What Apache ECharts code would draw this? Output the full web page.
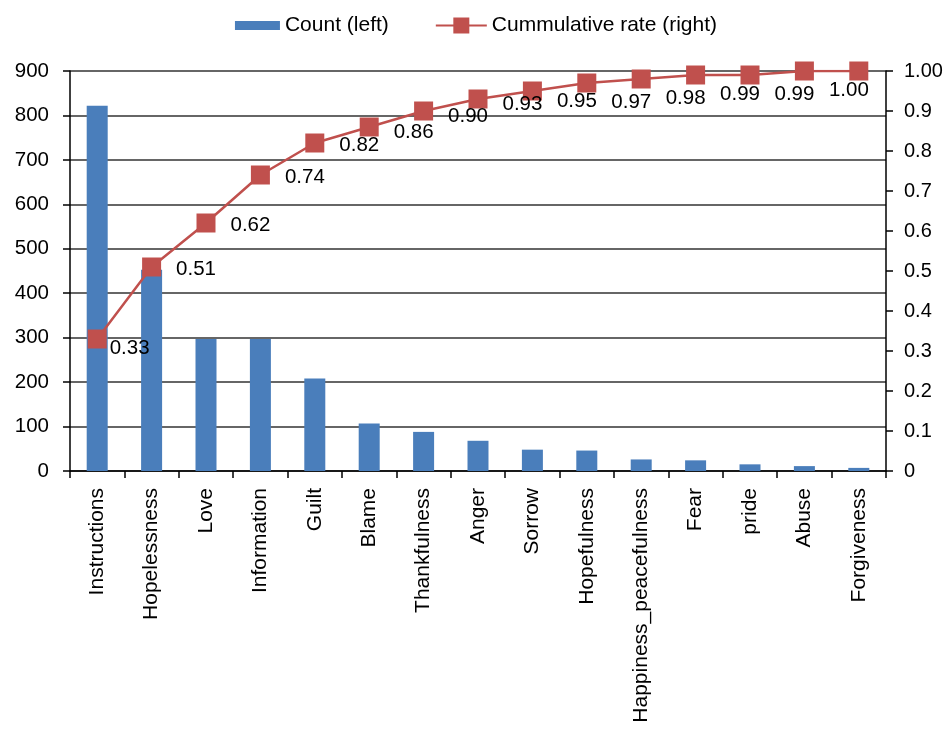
<!DOCTYPE html>
<html>
<head>
<meta charset="utf-8">
<script src="https://cdn.jsdelivr.net/npm/echarts@6/dist/echarts.min.js"></script>
<style>html,body{margin:0;padding:0;background:#fff;}#c{width:946px;height:729px;}</style>
</head>
<body>
<div id="c"></div>
<script>
const categories = ["Instructions","Hopelessness","Love","Information","Guilt","Blame","Thankfulness","Anger","Sorrow","Hopefulness","Happiness_peacefulness","Fear","pride","Abuse","Forgiveness"];
const counts = [822, 453, 297, 297, 208, 107, 88, 68, 48, 46, 26, 24, 15, 11, 7];
const cumRate = [0.33, 0.51, 0.62, 0.74, 0.82, 0.86, 0.90, 0.93, 0.95, 0.97, 0.98, 0.99, 0.99, 1.00, 1.00];
const leftTicks = [0, 900, 100];
const rightTicks = [0, 1, 0.1];

const FONT = "'Liberation Sans', Arial, sans-serif";
const chart = echarts.init(document.getElementById('c'), null, {renderer: 'canvas'});

// label nudges (style only), chosen by position in the curve
function labelFor(v, i, n) {
  if (i === n - 1) return {show: false};
  if (i === 0) return {offset: [-12, 9]};
  if (v >= 0.97) return {offset: [0, 19]};
  if (v >= 0.95) return {offset: [0, 10]};
  if (v >= 0.85) return {offset: [0, 5]};
  return {offset: [0, 2]};
}
const lineData = cumRate.map((v, i) => ({value: v, label: labelFor(v, i, cumRate.length)}));

chart.setOption({
  animation: false,
  backgroundColor: '#ffffff',
  textStyle: {fontFamily: FONT},
  legend: {
    top: 10,
    left: 'center',
    itemGap: 46,
    itemWidth: 51,
    itemHeight: 20,
    textStyle: {fontFamily: FONT, fontSize: 21, color: '#000'},
    data: [
      {name: 'Count (left)', icon: 'path://M0,0L0,0M6,5.5L51,5.5L51,14.5L6,14.5ZM51,20L51,20'},
      {name: 'Cummulative rate (right)'}
    ]
  },
  grid: {left: 70, right: 60, top: 71, bottom: 258, containLabel: false},
  xAxis: {
    type: 'category',
    data: categories,
    boundaryGap: true,
    axisLine: {lineStyle: {color: '#000', width: 1.5}},
    axisTick: {show: true, interval: 0, length: 7, lineStyle: {color: '#000', width: 1.5}},
    axisLabel: {interval: 0, rotate: 90, margin: 17, fontSize: 21, color: '#000', fontFamily: FONT}
  },
  yAxis: [
    {
      type: 'value', min: leftTicks[0], max: leftTicks[1], interval: leftTicks[2],
      axisLine: {show: true, lineStyle: {color: '#000', width: 1.5}},
      axisTick: {show: true, length: 7, lineStyle: {color: '#000', width: 1.5}},
      axisLabel: {fontSize: 20.5, color: '#000', margin: 21, fontFamily: FONT},
      splitLine: {show: true, lineStyle: {color: '#333', width: 1.5}}
    },
    {
      type: 'value', min: rightTicks[0], max: rightTicks[1], interval: rightTicks[2],
      position: 'right',
      axisLine: {show: true, lineStyle: {color: '#000', width: 1.5}},
      axisTick: {show: true, length: 7, lineStyle: {color: '#000', width: 1.5}},
      axisLabel: {fontSize: 20, color: '#000', margin: 18, fontFamily: FONT,
        formatter: v => v === 0 ? '0' : (Math.abs(v - 1) < 1e-9 ? '1.00' : v.toFixed(1))},
      splitLine: {show: false}
    }
  ],
  series: [
    {
      name: 'Count (left)',
      type: 'bar',
      yAxisIndex: 0,
      data: counts,
      barWidth: 21,
      itemStyle: {color: '#4A7EBB'}
    },
    {
      name: 'Cummulative rate (right)',
      type: 'line',
      yAxisIndex: 1,
      data: lineData,
      symbol: 'rect',
      symbolSize: 19,
      lineStyle: {color: '#C0504D', width: 2.5},
      itemStyle: {color: '#C0504D'},
      label: {
        show: true,
        position: 'right',
        distance: 15,
        fontSize: 20.5,
        color: '#000',
        fontFamily: FONT,
        formatter: p => p.value.toFixed(2)
      },
      z: 5
    }
  ]
});
</script>
</body>
</html>
